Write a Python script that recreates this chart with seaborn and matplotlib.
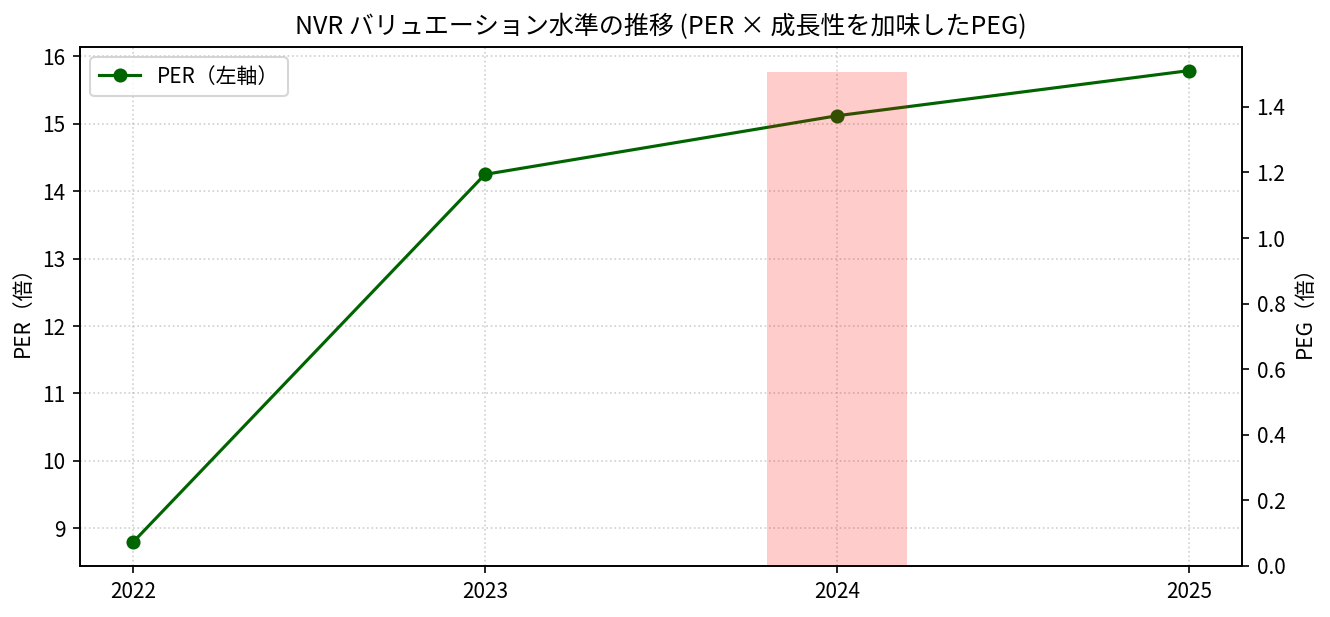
import seaborn as sns
import numpy as np
import pandas as pd
import matplotlib.pyplot as plt

plt.rcParams['font.family'] = ['Noto Sans CJK JP', 'DejaVu Sans']

# values
years = [2022, 2023, 2024, 2025]
per = [8.79, 14.25, 15.12, 15.79]
peg_years = [2024]
peg = [1.507]

df = pd.DataFrame({'year': years, 'per': per})

fig, ax1 = plt.subplots(figsize=(1330 / 150, 617 / 150), dpi=150)
fig.subplots_adjust(left=80 / 1330, right=1242 / 1330, top=1 - 47 / 617, bottom=1 - 566 / 617)

sns.lineplot(data=df, x='year', y='per', ax=ax1, marker='o', color='darkgreen',
             markeredgecolor='darkgreen', linewidth=1.5, markersize=6, label='PER（左軸）')
ax1.set_xlabel('')
ax1.set_ylabel('PER（倍）')
ax1.set_xticks(years)
ax1.set_xticklabels([str(y) for y in years])
ax1.grid(True, linestyle=':', alpha=0.6)
ax1.legend(loc='upper left')

# PEG bars on the right axis
ax2 = ax1.twinx()
ax2.bar(peg_years, peg, width=0.4, color='red', alpha=0.2, label='PEG（右軸）')
ax2.set_ylabel('PEG（倍）')

ax1.set_title('NVR バリュエーション水準の推移 (PER × 成長性を加味したPEG)')

fig.savefig('out.png', dpi=150)
